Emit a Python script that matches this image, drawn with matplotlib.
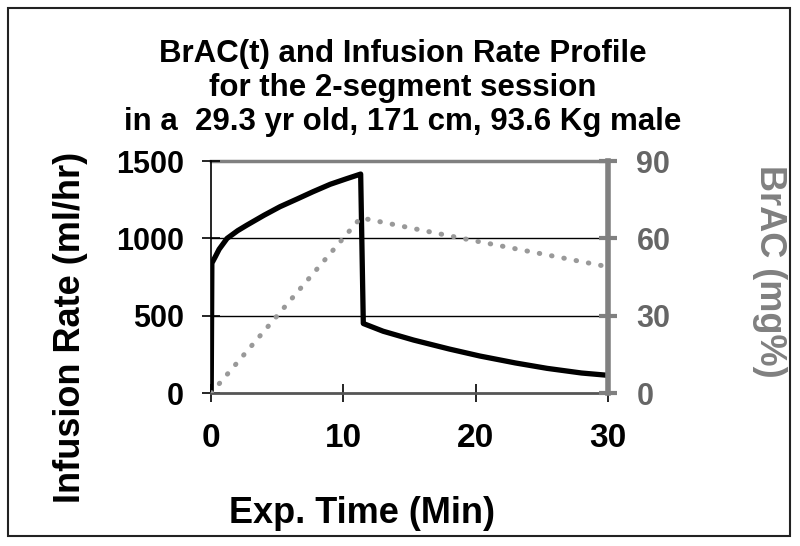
import numpy as np
import matplotlib
matplotlib.use('Agg')
import matplotlib.pyplot as plt
from matplotlib.patches import Rectangle

plt.rcParams['font.family'] = ['Liberation Sans', 'DejaVu Sans']
plt.rcParams['font.weight'] = 'bold'

# infusion rate profile (ml/hr) vs experiment time (min)
infusion_t = [0, 0.05, 0.3, 0.6, 1.2, 2.0, 2.7, 4.0, 5.2, 6.5, 7.7, 9.0, 10.2, 11.3,
              11.5, 13.0, 15.3, 18.0, 20.3, 23.0, 25.4, 28.0, 30.0]
infusion_rate = [0, 840, 880, 930, 1000, 1050, 1086, 1150, 1205, 1255, 1302, 1350, 1385, 1416,
                 450, 400, 343, 285, 240, 195, 160, 130, 115]

# breath alcohol concentration (mg%)
brac_t = [0, 11.3, 18.5, 30.0]
brac = [0, 68, 60.5, 49]

title_lines = ['BrAC(t) and Infusion Rate Profile',
               'for the 2-segment session',
               'in a  29.3 yr old, 171 cm, 93.6 Kg male']
x_ticks = [0, 10, 20, 30]
left_ticks = [0, 500, 1000, 1500]
right_ticks = [0, 30, 60, 90]

grey = '#808080'

fig = plt.figure(figsize=(8, 5.46), dpi=100)
ax = fig.add_axes([0.264, 0.280, 0.496, 0.425])

ax.plot(infusion_t, infusion_rate, color='black', lw=3.8, zorder=3)
ax.set_xlim(0, 30)
ax.set_ylim(0, 1500)
ax.set_xticks(x_ticks)
ax.set_yticks(left_ticks)
for v in left_ticks[1:3]:
    ax.axhline(v, color='black', lw=1, zorder=1)
ax.axhline(1500, color=grey, lw=2.5, zorder=1, clip_on=False)

ax.spines['top'].set_visible(False)
ax.spines['right'].set_visible(False)
ax.spines['left'].set_color('black')
ax.spines['left'].set_linewidth(1.2)
ax.spines['bottom'].set_color('#555555')
ax.spines['bottom'].set_linewidth(2)
ax.tick_params(axis='x', direction='inout', length=13, width=1.2, labelsize=24, pad=15)
ax.tick_params(axis='y', direction='inout', length=13, width=1.2, labelsize=22, pad=13)

ax.set_xlabel('Exp. Time (Min)', fontsize=26, fontweight='bold')
ax.xaxis.set_label_coords(0.38, -0.445)
ax.set_ylabel('Infusion Rate (ml/hr)', fontsize=26, fontweight='bold')
ax.yaxis.set_label_coords(-0.31, 0.285)

# BrAC on a secondary axis
ax2 = ax.twinx()
ax2.plot(brac_t, brac, color='#999999', lw=3.6, linestyle=(0, (0.1, 2.4)),
         dash_capstyle='round', zorder=4)
ax2.set_ylim(0, 90)
ax2.set_yticks(right_ticks)
for s in ['top', 'left', 'bottom']:
    ax2.spines[s].set_visible(False)
ax2.spines['right'].set_color(grey)
ax2.spines['right'].set_linewidth(4)
ax2.tick_params(axis='y', direction='inout', length=13, width=3, color=grey,
                labelcolor='#666666', labelsize=22, pad=14)
ax2.set_ylabel('BrAC (mg%)', fontsize=26, fontweight='bold', color=grey,
               rotation=270, va='center')
ax2.yaxis.set_label_coords(1.408, 0.526)

# three-line title, placed by baseline
for i, line in enumerate(title_lines):
    fig.text(0.503, 1 - (62 + 34 * i) / 546, line, ha='center', va='baseline',
             fontsize=22.5, fontweight='bold')

# outer frame
fig.patches.append(Rectangle((0.01, 0.018), 0.978, 0.967, transform=fig.transFigure,
                             fill=False, edgecolor='#222222', lw=1.5))

fig.savefig('out.png', dpi=100)
